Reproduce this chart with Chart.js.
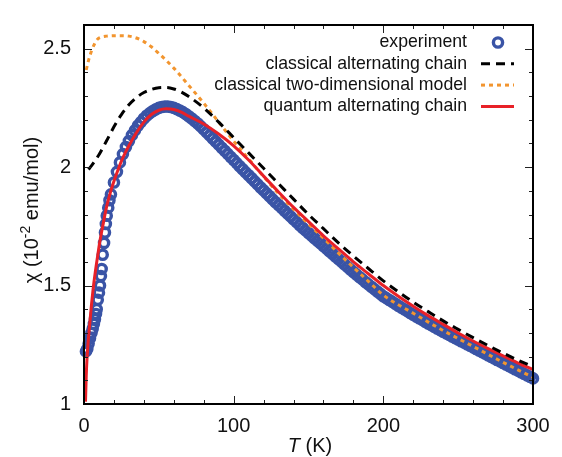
<!DOCTYPE html>
<html>
<head>
<meta charset="utf-8">
<script src="https://cdn.jsdelivr.net/npm/chart.js@4.4.1/dist/chart.umd.min.js"></script>
<style>
html, body { margin: 0; padding: 0; background: #fff; }
#wrap { width: 562px; height: 457px; }
</style>
</head>
<body>
<div id="wrap"><canvas id="chi"></canvas></div>
<script>
// measured susceptibility (10^-2 emu/mol) vs temperature (K)
var expT = [1.3, 2.2, 3.1, 4.0, 5.0, 5.8, 6.6, 7.3, 8.0, 8.5, 9.2, 10, 10.7, 11.3, 11.8, 12.5, 13.4, 14.0, 14.6, 15.2, 16.2, 17,
    18, 20, 22, 24, 26, 28, 30, 32, 34, 36, 38, 40, 42, 44, 46, 48, 50, 52, 54, 56, 58, 60,
    62, 64, 66, 68, 70, 72, 74, 76, 78, 80, 82, 84, 86, 88, 90, 92, 94, 96, 98, 100,
    102, 104, 106, 108, 110, 112, 114, 116, 118, 120, 122, 124, 126, 128, 130, 132, 134, 136, 138, 140,
    142, 144, 146, 148, 150, 152, 154, 156, 158, 160, 162, 164, 166, 168, 170, 172, 174, 176, 178, 180,
    182, 184, 186, 188, 190, 192, 194, 196, 198, 200, 202, 204, 206, 208, 210, 212, 214, 216, 218, 220,
    222, 224, 226, 228, 230, 232, 234, 236, 238, 240, 242, 244, 246, 248, 250, 252, 254, 256, 258, 260,
    262, 264, 266, 268, 270, 272, 274, 276, 278, 280, 282, 284, 286, 288, 290, 292, 294, 296, 298, 300];
var expChi = [1.222, 1.232, 1.255, 1.278, 1.3, 1.318, 1.338, 1.358, 1.38, 1.4, 1.44, 1.47, 1.5, 1.54, 1.57, 1.63, 1.68, 1.724, 1.76, 1.795, 1.829, 1.86,
    1.885, 1.935, 1.98, 2.02, 2.055, 2.085, 2.11, 2.135, 2.155, 2.175, 2.19, 2.205, 2.218, 2.228, 2.237, 2.244, 2.25, 2.254, 2.256, 2.256, 2.254, 2.25,
    2.245, 2.239, 2.232, 2.224, 2.215, 2.205, 2.195, 2.184, 2.172, 2.16, 2.147, 2.134, 2.121, 2.108, 2.095, 2.082, 2.069, 2.056, 2.043, 2.03,
    2.017, 2.004, 1.991, 1.978, 1.966, 1.953, 1.94, 1.927, 1.914, 1.902, 1.889, 1.877, 1.864, 1.852, 1.84, 1.828, 1.816, 1.804, 1.792, 1.78,
    1.768, 1.756, 1.744, 1.733, 1.722, 1.711, 1.7, 1.689, 1.678, 1.667, 1.656, 1.645, 1.634, 1.623, 1.612, 1.601, 1.59, 1.579, 1.568, 1.557,
    1.547, 1.536, 1.526, 1.515, 1.505, 1.495, 1.485, 1.475, 1.465, 1.455, 1.447, 1.439, 1.431, 1.423, 1.415, 1.407, 1.4, 1.392, 1.384, 1.377,
    1.369, 1.362, 1.355, 1.347, 1.34, 1.333, 1.326, 1.319, 1.312, 1.305, 1.298, 1.292, 1.285, 1.278, 1.272, 1.265, 1.259, 1.252, 1.246, 1.239,
    1.232, 1.226, 1.219, 1.213, 1.206, 1.199, 1.193, 1.186, 1.18, 1.173, 1.167, 1.16, 1.154, 1.147, 1.141, 1.134, 1.128, 1.121, 1.115, 1.108];

// classical alternating chain
var classT = [3, 6, 10, 15, 20, 25, 30, 35, 40, 45, 50, 55, 60, 65, 70, 80, 90, 100, 110, 120, 130, 140, 150,
    160, 170, 180, 190, 200, 210, 220, 230, 240, 250, 260, 270, 280, 290, 300];
var classChi = [1.99, 2.015, 2.052, 2.11, 2.17, 2.222, 2.263, 2.293, 2.315, 2.328, 2.335, 2.336, 2.33, 2.317, 2.298, 2.25, 2.19, 2.125, 2.06, 1.995, 1.93, 1.865, 1.80,
    1.74, 1.68, 1.625, 1.572, 1.52, 1.474, 1.43, 1.39, 1.351, 1.315, 1.28, 1.247, 1.215, 1.185, 1.157];

// classical two-dimensional model
var twoDT = [1.5, 3, 5, 7, 9, 12, 15, 20, 25, 30, 35, 40, 45, 50, 55, 60, 70, 80, 90, 100, 110, 120, 130, 140,
    150, 160, 170, 180, 190, 200, 220, 240, 260, 280, 300];
var twoDChi = [2.41, 2.45, 2.49, 2.52, 2.54, 2.55, 2.553, 2.555, 2.555, 2.553, 2.545, 2.53, 2.508, 2.48, 2.45, 2.418, 2.345, 2.27, 2.19, 2.11, 2.035, 1.96, 1.888, 1.822,
    1.76, 1.70, 1.637, 1.577, 1.518, 1.46, 1.383, 1.31, 1.243, 1.176, 1.112];

// quantum alternating chain
var quantT = [1, 1.5, 2, 3, 4, 5, 6, 7.5, 9, 10.7, 12.5, 15, 17.5, 20, 22.5, 25, 27.5, 30, 35, 40, 45, 50, 55, 60, 65, 70,
    80, 90, 100, 110, 120, 130, 140, 150, 160, 170, 180, 190, 200, 210, 220, 230, 240, 250, 260, 270, 280, 290, 300];
var quantChi = [1.01, 1.12, 1.19, 1.28, 1.35, 1.42, 1.48, 1.555, 1.62, 1.69, 1.75, 1.83, 1.89, 1.94, 1.985, 2.025, 2.06, 2.09, 2.145, 2.19, 2.222, 2.24, 2.246, 2.243, 2.232, 2.215,
    2.182, 2.14, 2.09, 2.03, 1.962, 1.895, 1.83, 1.77, 1.71, 1.655, 1.60, 1.55, 1.50, 1.455, 1.413, 1.373, 1.336, 1.30, 1.266, 1.234, 1.203, 1.173, 1.145];

var seriesNames = ["experiment", "classical alternating chain", "classical two-dimensional model", "quantum alternating chain"];
var xTicks = [0, 100, 200, 300];
var xTickLabels = ["0", "100", "200", "300"];
var xMinor = [20, 40, 60, 80, 120, 140, 160, 180, 220, 240, 260, 280];
var yTicks = [1, 1.5, 2, 2.5];
var yTickLabels = ["1", "1.5", "2", "2.5"];
var yMinor = [1.1, 1.2, 1.3, 1.4, 1.6, 1.7, 1.8, 1.9, 2.1, 2.2, 2.3, 2.4, 2.6];

var FONT = '"Liberation Sans", Arial, Helvetica, sans-serif';

function pts(xs, ys) {
    return xs.map(function(x, i) { return { x: x, y: ys[i] }; });
}

// axis titles, legend, then the box with inward ticks on top
var decorPlugin = {
    id: "decor",
    afterDraw: function(chart) {
        var ctx = chart.ctx;
        ctx.save();
        ctx.fillStyle = "#111";
        ctx.font = "italic 20px " + FONT;
        var wT = ctx.measureText("T").width;
        ctx.font = "20px " + FONT;
        var wK = ctx.measureText(" (K)").width;
        var x0 = 310 - (wT + wK) / 2;
        ctx.textBaseline = "alphabetic";
        ctx.textAlign = "left";
        ctx.font = "italic 20px " + FONT;
        ctx.fillText("T", x0, 452);
        ctx.font = "20px " + FONT;
        ctx.fillText(" (K)", x0 + wT, 452);

        ctx.translate(38, 210);
        ctx.rotate(-Math.PI / 2);
        ctx.font = "20px " + FONT;
        var p1 = "\u03c7 (10", p3 = " emu/mol)";
        var w1 = ctx.measureText(p1).width, w3 = ctx.measureText(p3).width;
        ctx.font = "14px " + FONT;
        var w2 = ctx.measureText("-2").width;
        var s = -(w1 + w2 + w3) / 2;
        ctx.font = "20px " + FONT;
        ctx.fillText(p1, s, 0);
        ctx.font = "14px " + FONT;
        ctx.fillText("-2", s + w1, -8);
        ctx.font = "20px " + FONT;
        ctx.fillText(p3, s + w1 + w2, 0);
        ctx.restore();

        ctx.save();
        ctx.font = "17.7px " + FONT;
        ctx.textAlign = "right";
        ctx.textBaseline = "middle";
        var rowY = [42.5, 63.8, 85.1, 106.4];
        chart.data.datasets.forEach(function(ds, i) {
            var y = rowY[i];
            ctx.fillStyle = "#111";
            ctx.fillText(ds.label, 467, y);
            if (ds.showLine) {
                ctx.strokeStyle = ds.borderColor;
                ctx.lineWidth = ds.borderWidth;
                ctx.setLineDash(ds.borderDash || []);
                ctx.beginPath();
                ctx.moveTo(481, y); ctx.lineTo(514, y);
                ctx.stroke();
                ctx.setLineDash([]);
            } else {
                ctx.strokeStyle = ds.pointBorderColor;
                ctx.lineWidth = ds.pointBorderWidth;
                ctx.beginPath();
                ctx.arc(498, y, ds.pointRadius, 0, Math.PI * 2);
                ctx.stroke();
            }
        });
        ctx.restore();

        var a = chart.chartArea;
        var xs = chart.scales.x, ys = chart.scales.y;
        ctx.save();
        ctx.strokeStyle = "#222";
        ctx.lineWidth = 1;
        ctx.beginPath();
        xTicks.concat(xMinor).forEach(function(v) {
            var px = Math.round(xs.getPixelForValue(v)) + 0.5;
            var len = xTicks.indexOf(v) >= 0 ? 8 : 4;
            ctx.moveTo(px, a.bottom); ctx.lineTo(px, a.bottom - len);
            ctx.moveTo(px, a.top); ctx.lineTo(px, a.top + len);
        });
        yTicks.concat(yMinor).forEach(function(v) {
            var py = Math.round(ys.getPixelForValue(v)) + 0.5;
            var len = yTicks.indexOf(v) >= 0 ? 8 : 4;
            ctx.moveTo(a.left, py); ctx.lineTo(a.left + len, py);
            ctx.moveTo(a.right, py); ctx.lineTo(a.right - len, py);
        });
        ctx.stroke();
        ctx.strokeStyle = "#000";
        ctx.lineWidth = 2;
        ctx.strokeRect(a.left, a.top, a.right - a.left, a.bottom - a.top);
        ctx.restore();
    }
};

var edge = { display: true, color: "#000", width: 2, z: 1 };

window.onload = function() {
    var ctx = document.getElementById("chi").getContext("2d");
    var chart = new Chart(ctx, {
        type: "scatter",
        data: {
            datasets: [{
                label: seriesNames[0],
                data: pts(expT, expChi),
                showLine: false,
                pointRadius: 4.6,
                pointBorderWidth: 3.4,
                pointBorderColor: "#3a54a6",
                pointBackgroundColor: "rgba(255,255,255,0)",
                clip: 8,
                order: 3
            }, {
                label: seriesNames[1],
                data: pts(classT, classChi),
                showLine: true,
                borderColor: "#000000",
                borderWidth: 3,
                borderDash: [9, 6],
                pointRadius: 0,
                cubicInterpolationMode: "monotone",
                order: 0
            }, {
                label: seriesNames[2],
                data: pts(twoDT, twoDChi),
                showLine: true,
                borderColor: "#f2952f",
                borderWidth: 3,
                borderDash: [4, 4],
                pointRadius: 0,
                cubicInterpolationMode: "monotone",
                order: 2
            }, {
                label: seriesNames[3],
                data: pts(quantT, quantChi),
                showLine: true,
                borderColor: "#e82128",
                borderWidth: 3,
                pointRadius: 0,
                cubicInterpolationMode: "monotone",
                order: 1
            }]
        },
        options: {
            responsive: true,
            maintainAspectRatio: false,
            animation: false,
            devicePixelRatio: 1,
            layout: { padding: { left: 0, top: 12, right: 29, bottom: 0 } },
            plugins: {
                legend: { display: false },
                tooltip: { enabled: false }
            },
            scales: {
                x: {
                    type: "linear",
                    min: 0,
                    max: 300,
                    grid: { display: false, drawTicks: false },
                    border: edge,
                    afterBuildTicks: function(s) { s.ticks = xTicks.map(function(v) { return { value: v }; }); },
                    afterFit: function(s) { s.height = 53; },
                    ticks: {
                        padding: 10,
                        color: "#111",
                        font: { family: FONT, size: 20 },
                        maxRotation: 0,
                        callback: function(v) { return xTickLabels[xTicks.indexOf(v)]; }
                    }
                },
                y: {
                    type: "linear",
                    min: 1,
                    max: 2.6,
                    grid: { display: false, drawTicks: false },
                    border: edge,
                    afterBuildTicks: function(s) { s.ticks = yTicks.map(function(v) { return { value: v }; }); },
                    afterFit: function(s) { s.width = 84; },
                    ticks: {
                        padding: 13,
                        color: "#111",
                        font: { family: FONT, size: 20 },
                        callback: function(v) { return yTickLabels[yTicks.indexOf(v)]; }
                    }
                }
            }
        },
        plugins: [decorPlugin]
    });
};
</script>
</body>
</html>
